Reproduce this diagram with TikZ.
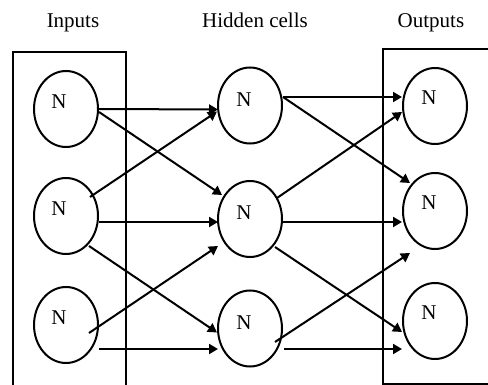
\documentclass[tikz,border=0pt]{standalone}
\usepackage{fontspec}
\setmainfont{Liberation Serif}
\usetikzlibrary{shapes.geometric,arrows.meta,calc}
\begin{document}
\begin{tikzpicture}[x=0.5pt,y=-0.5pt,
  neuron/.style={draw,ellipse,line width=1pt,minimum width=32pt,minimum height=38pt,inner sep=0pt},
  ntext/.style={inner sep=0pt,font=\fontsize{10.5}{12}\selectfont},
  title/.style={inner sep=0pt,anchor=base,font=\fontsize{10.5}{12}\selectfont},
  frame/.style={draw,line width=1pt},
  arr/.style={line width=1pt,-{Triangle[length=4.5pt,width=5pt]}}]
\useasboundingbox (0,0) rectangle (488,385);
\clip (0,0) rectangle (488,385);
% titles
\node[title] (tin) at (73,28) {Inputs};
\node[title] (thid) at (255,28) {Hidden cells};
\node[title] (tout) at (431,28) {Outputs};
% frames
\draw[frame] (13,395) -- (13,52) -- (126,52) -- (126,395);
\draw[frame] (495,49) -- (383,49) -- (383,384) -- (495,384);
% neurons
\node[neuron] (i1) at (66,109) {};
\node[neuron] (i2) at (66,216) {};
\node[neuron] (i3) at (66,325) {};
\node[neuron] (h1) at (250,105.5) {};
\node[neuron] (h2) at (250,219) {};
\node[neuron] (h3) at (250,328.5) {};
\node[neuron] (o1) at (435,106) {};
\node[neuron] (o2) at (435,211) {};
\node[neuron] (o3) at (435,321) {};
% labels
\foreach \n in {i1,i2,i3}{\node[ntext] (\n t) at ($(\n)+(-7,-7)$) {N};}
\foreach \n in {h1,h2,h3}{\node[ntext] (\n t) at ($(\n)+(-6,-6)$) {N};}
\foreach \n in {o1,o2,o3}{\node[ntext] (\n t) at ($(\n)+(-6,-8)$) {N};}
% input -> hidden
\draw[arr] ($(i1)+(33,0)$) -- ($(h1)+(-32,4)$);
\draw[arr] ($(i1)+(33,3)$) -- ($(h2)+(-28,-24)$);
\draw[arr] ($(i2)+(24,-19)$) -- ($(h1)+(-33,6)$);
\draw[arr] ($(i2)+(33,6)$) -- ($(h2)+(-32,3)$);
\draw[arr] ($(i2)+(23,30)$) -- ($(h3)+(-33,4)$);
\draw[arr] ($(i3)+(23,8)$) -- ($(h2)+(-32,27)$);
\draw[arr] ($(i3)+(33,24)$) -- ($(h3)+(-32,20.5)$);
% hidden -> output
\draw[arr] ($(h1)+(33,-8.5)$) -- ($(o1)+(-33,-9)$);
\draw[arr] ($(h1)+(33,-8.5)$) -- ($(o2)+(-25,-28)$);
\draw[arr] ($(h2)+(27,-21)$) -- ($(o1)+(-33,6)$);
\draw[arr] ($(h2)+(33,3)$) -- ($(o2)+(-33,11)$);
\draw[arr] ($(h2)+(25,28)$) -- ($(o3)+(-33,11)$);
\draw[arr] ($(h3)+(25,13.5)$) -- ($(o2)+(-25,42)$);
\draw[arr] ($(h3)+(34,20.5)$) -- ($(o3)+(-33,28)$);
\end{tikzpicture}
\end{document}
